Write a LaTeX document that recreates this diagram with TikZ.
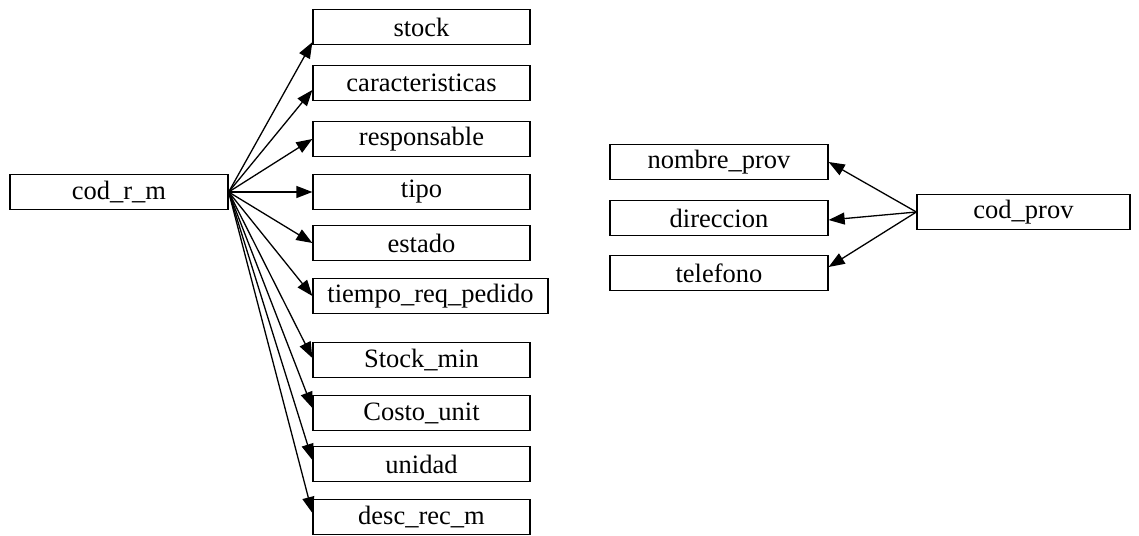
\documentclass[tikz,border=0pt]{standalone}
\usepackage{fontspec}
\setmainfont{Liberation Serif}
\usetikzlibrary{arrows.meta}
\begin{document}
\begin{tikzpicture}[x=1pt,y=-1pt,
  box/.style={draw, line width=1.3pt, minimum height=35pt, inner sep=0pt, font=\fontsize{26.5}{30}\selectfont},
  arr/.style={line width=1.3pt, -{Triangle[length=16pt,width=12pt]}}]
\useasboundingbox (0,0) rectangle (1139,535);
\node[box, minimum width=218pt] (crm) at (119,192) {cod\_r\_m};
\node[box, minimum width=217pt] (stock) at (421.5,27) {stock};
\node[box, minimum width=217pt] (car) at (421.5,83) {caracteristicas};
\node[box, minimum width=217pt] (resp) at (421.5,139) {responsable};
\node[box, minimum width=217pt] (tipo) at (421.5,192) {tipo};
\node[box, minimum width=217pt] (est) at (421.5,243) {estado};
\node[box, minimum width=235pt] (tiem) at (430.5,296) {tiempo\_req\_pedido};
\node[box, minimum width=217pt] (smin) at (421.5,360) {Stock\_min};
\node[box, minimum width=217pt] (costo) at (421.5,413) {Costo\_unit};
\node[box, minimum width=217pt] (uni) at (421.5,464) {unidad};
\node[box, minimum width=217pt] (desc) at (421.5,517) {desc\_rec\_m};
\node[box, minimum width=218pt] (nom) at (719,162) {nombre\_prov};
\node[box, minimum width=218pt] (dir) at (719,218) {direccion};
\node[box, minimum width=218pt] (tel) at (719,273) {telefono};
\node[box, minimum width=213pt] (cprov) at (1023.5,212) {cod\_prov};
\draw[arr] (crm.east) -- ([yshift=3pt]stock.south west);
\draw[arr] (crm.east) -- ([yshift=-7pt]car.west);
\draw[arr] (crm.east) -- (resp.west);
\draw[arr] (crm.east) -- (tipo.west);
\draw[arr] (crm.east) -- (est.west);
\draw[arr] (crm.east) -- (tiem.west);
\draw[arr] (crm.east) -- ([yshift=2pt]smin.west);
\draw[arr] (crm.east) -- ([yshift=5pt]costo.west);
\draw[arr] (crm.east) -- ([yshift=4pt]uni.west);
\draw[arr] (crm.east) -- ([yshift=4pt]desc.west);
\draw[arr] (cprov.west) -- (nom.east);
\draw[arr] (cprov.west) -- ([yshift=-2pt]dir.east);
\draw[arr] (cprov.west) -- ([yshift=6pt]tel.east);
\end{tikzpicture}
\end{document}
